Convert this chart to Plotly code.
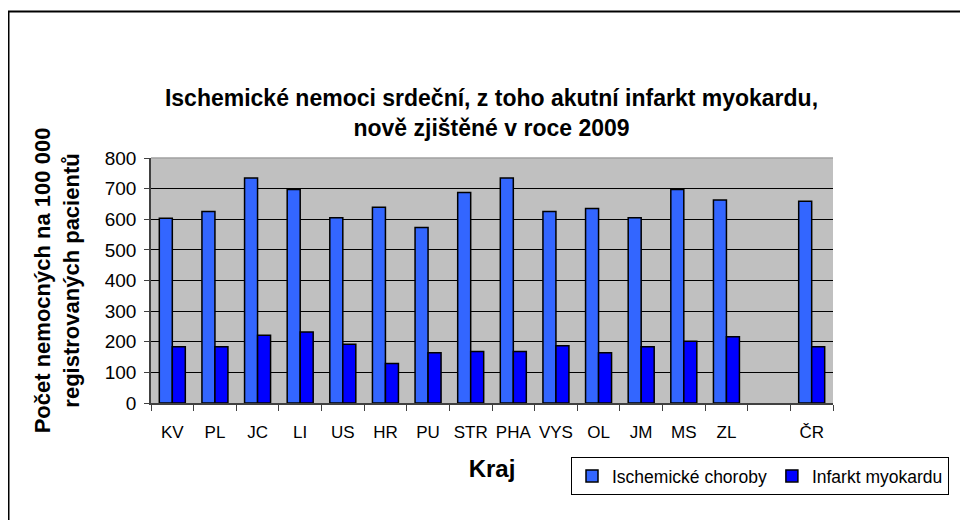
import plotly.graph_objects as go

categories = ["KV", "PL", "JC", "LI", "US", "HR", "PU", "STR", "PHA", "VYS",
              "OL", "JM", "MS", "ZL", " ", "ČR"]
ischemicke = [603, 625, 735, 697, 605, 639, 573, 687, 735, 625,
              635, 605, 697, 663, None, 659]
infarkt = [184, 184, 221, 232, 192, 129, 164, 168, 168, 187,
           164, 184, 202, 216, None, 184]
y_ticks = [0, 100, 200, 300, 400, 500, 600, 700, 800]

FONT = "Liberation Sans, Arial, sans-serif"
W, H = 960, 512
L, R, T, B = 143, 825, 150, 395

def px_x(p):
    return (p - L) / (R - L)

def px_y(p):
    return (B - p) / (B - T)

fig = go.Figure()
fig.add_trace(go.Bar(
    x=categories, y=ischemicke, name="Ischemické choroby",
    marker=dict(color="#3366FF", line=dict(color="black", width=1.5)),
))
fig.add_trace(go.Bar(
    x=categories, y=infarkt, name="Infarkt myokardu",
    marker=dict(color="#0000FF", line=dict(color="black", width=1.5)),
))

fig.update_layout(
    width=W, height=H,
    margin=dict(l=L, r=W - R, t=T, b=H - B, autoexpand=False),
    paper_bgcolor="white",
    plot_bgcolor="#C0C0C0",
    barmode="group", bargap=0.39, bargroupgap=0,
    font=dict(family=FONT, color="black"),
    title=dict(
        text="<b>Ischemické nemoci srdeční, z toho akutní infarkt myokardu,<br>nově zjištěné v roce 2009</b>",
        font=dict(size=23, family=FONT, color="black"),
        x=483.5 / W, xref="container", xanchor="center",
        y=1 - 98 / H, yref="container", yanchor="middle",
    ),
    xaxis=dict(
        type="category",
        tickson="boundaries", ticks="outside", ticklen=6, tickcolor="#404040",
        showgrid=False, showline=True, linecolor="#404040", linewidth=1.5,
        tickangle=0,
        tickfont=dict(size=17, family=FONT, color="black"),
        ticklabelstandoff=13,
        title=dict(text="<b>Kraj</b>", font=dict(size=24, family=FONT, color="black"), standoff=19),
        automargin=False,
    ),
    yaxis=dict(
        range=[0, 800], tickvals=y_ticks, ticks="outside", ticklen=5, tickcolor="#404040",
        showgrid=True, gridcolor="black", gridwidth=1,
        showline=True, linecolor="#404040", linewidth=1.5,
        zeroline=False,
        tickfont=dict(size=19, family=FONT, color="black"),
        ticklabelstandoff=4,
        title=dict(text="<b>Počet nemocných na 100 000<br>registrovaných pacientů</b>",
                   font=dict(size=22, family=FONT, color="black"), standoff=19),
        automargin=False,
    ),
    legend=dict(
        orientation="h", x=px_x(563), y=px_y(449), xanchor="left", yanchor="top",
        bordercolor="black", borderwidth=1, bgcolor="white",
        font=dict(size=17.5, family=FONT, color="black"),
        itemwidth=30, tracegroupgap=0,
    ),
    showlegend=True,
)

# light top border of the plot area
fig.add_shape(type="line", xref="paper", yref="paper", x0=0, x1=1, y0=1, y1=1,
              line=dict(color="#A0A0A0", width=1.5), layer="above")
# outer chart frame
fig.add_shape(type="rect", xref="paper", yref="paper",
              x0=px_x(0.5), x1=px_x(990), y0=px_y(3.5), y1=px_y(540),
              line=dict(color="black", width=2), layer="below")

fig.write_html("out.html")
